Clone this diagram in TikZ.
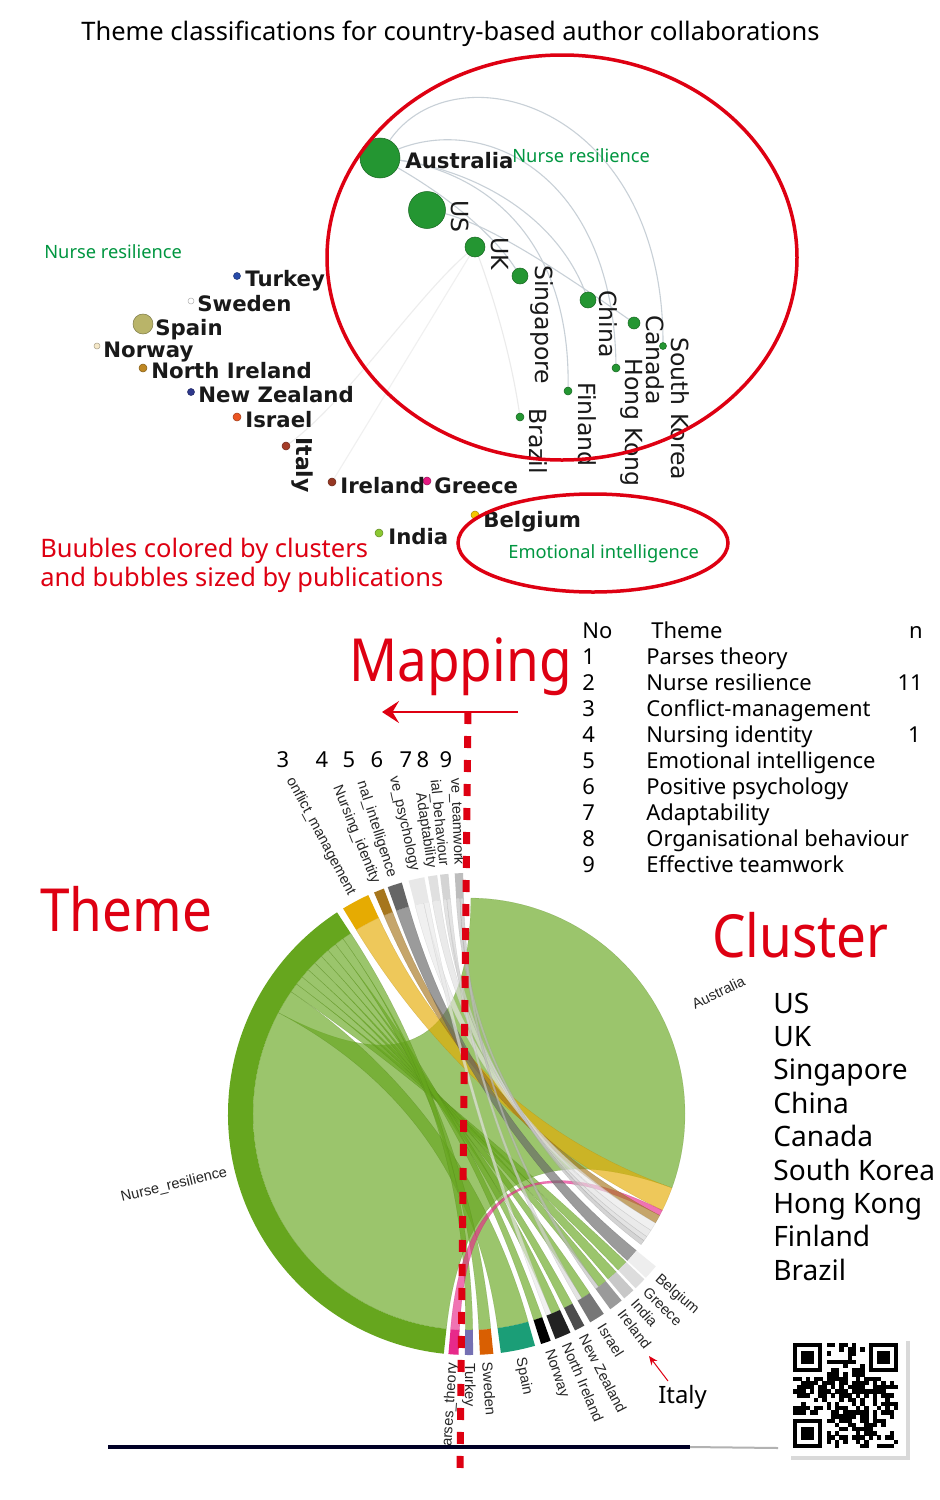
\documentclass[tikz,border=0pt]{standalone}
\usepackage{fontspec}
\setmainfont{Noto Sans}
\newfontfamily\vosfont{DejaVu Sans}
\newfontfamily\chordfont{Liberation Sans}
\usetikzlibrary{arrows.meta}

\definecolor{mapred}{RGB}{222,0,18}
\definecolor{labgreen}{RGB}{0,150,64}
\definecolor{bubgreen}{RGB}{36,150,50}
\definecolor{vosgray}{RGB}{200,208,215}
%left bubbles
\definecolor{dturk}{RGB}{40,75,170}
\definecolor{dspa}{RGB}{185,180,105}
\definecolor{dnor}{RGB}{245,232,200}
\definecolor{dnir}{RGB}{190,135,35}
\definecolor{dnzl}{RGB}{45,55,140}
\definecolor{disr}{RGB}{235,85,35}
\definecolor{dita}{RGB}{165,60,40}
\definecolor{dirl}{RGB}{150,55,35}
\definecolor{dgre}{RGB}{230,25,130}
\definecolor{dbel}{RGB}{245,200,0}
\definecolor{dind}{RGB}{140,200,50}
%chord groups
\definecolor{cnurse}{HTML}{66A61E}
\definecolor{cconf}{HTML}{E6AB02}
\definecolor{cident}{HTML}{A6761D}
\definecolor{cemot}{HTML}{666666}
\definecolor{cpos}{HTML}{E8E8E8}
\definecolor{cadapt}{HTML}{E0E0E0}
\definecolor{corg}{HTML}{D4D4D4}
\definecolor{cteam}{HTML}{BDBDBD}
\definecolor{cbel}{HTML}{EEEEEE}
\definecolor{cgre}{HTML}{DDDDDD}
\definecolor{cind}{HTML}{C8C8C8}
\definecolor{cirl}{HTML}{9A9A9A}
\definecolor{cisr}{HTML}{777777}
\definecolor{cnzl}{HTML}{4D4D4D}
\definecolor{cnir}{HTML}{222222}
\definecolor{cnor}{HTML}{000000}
\definecolor{cspa}{HTML}{1B9E77}
\definecolor{cswe}{HTML}{D95F02}
\definecolor{ctur}{HTML}{7570B3}
\definecolor{cpar}{HTML}{E7298A}

\newcommand\fs[1]{\fontsize{#1}{#1}\selectfont}

% ribbon between arc #1-#2 and arc #3-#4 (degrees, clockwise from top)
\newcommand\ribbon[5]{%
  \path[ribbon=#5] (#1-90:216) arc[start angle=#1-90, end angle=#2-90, radius=216]
    .. controls (#2-90:72) and (#3-90:72) .. (#3-90:216)
    arc[start angle=#3-90, end angle=#4-90, radius=216]
    .. controls (#4-90:72) and (#1-90:72) .. (#1-90:216) -- cycle;}
\newcommand\grouparc[3]{%
  \fill[#3] (#1-90:216) arc[start angle=#1-90, end angle=#2-90, radius=216]
    -- (#2-90:241) arc[start angle=#2-90, end angle=#1-90, radius=241] -- cycle;}
\newcommand\rightlab[2]{\node[chordlab, anchor=west, rotate=90-#1] at (#1-90:247) {#2};}
\newcommand\leftlab[2]{\node[chordlab, anchor=east, rotate=270-#1] at (#1-90:247) {#2};}

\begin{document}
\begin{tikzpicture}[x=0.2mm, y=-0.2mm,
  ribbon/.style={fill=#1, fill opacity=.65, draw=#1!75!black, draw opacity=.4, line width=.15pt},
  chordlab/.style={font=\chordfont\fs{8.3}, text=black!85, inner sep=1pt},
  bubble/.style={circle, draw=#1!70!black, fill=#1, inner sep=0pt, line width=.3pt},
  vlab/.style={font=\vosfont\bfseries\fs{12.1}, text=black!90, anchor=base west, inner sep=0pt},
  rlab/.style={font=\vosfont\fs{13.4}, text=black!90, rotate=-90, anchor=west, inner sep=0pt},
  vosline/.style={vosgray, line width=.22mm},
  bigred/.style={mapred, line width=.7mm},
  greenlab/.style={font=\fs{10.4}, text=labgreen, anchor=base west, inner sep=0pt},
  tabtext/.style={font=\fs{12.5}, anchor=base west, inner sep=0pt},
  bigword/.style={font=\fs{30.2}, text=mapred, anchor=base west, inner sep=0pt, yscale=1.12}]

\fill[white] (0,0) rectangle (939,1500);
\useasboundingbox (0,0) rectangle (939,1500);

\node[font=\fs{14.5}, anchor=base west, inner sep=0pt] (title) at (81,40)
  {Theme classifications for country-based author collaborations};

%% bubble map
\coordinate (aus) at (380,158);
\coordinate (usa) at (427,210);
\coordinate (ukd) at (475,247);
\coordinate (sgp) at (520,276);
\coordinate (chn) at (588,300);
\coordinate (can) at (634,323);
\coordinate (skr) at (663,346);
\coordinate (hkg) at (616,368);
\coordinate (fin) at (568,391);
\coordinate (bra) at (520,417);
\coordinate (ita) at (286,446);
\coordinate (irl) at (332,482);

\draw[vosline] (aus) .. controls (430,40) and (665,90) .. (skr);
\draw[vosline] (aus) .. controls (470,105) and (615,165) .. (hkg);
\draw[vosline] (aus) .. controls (480,165) and (572,235) .. (fin);
\draw[vosline] (aus) .. controls (470,165) and (560,215) .. (chn);
\draw[vosline] (aus) .. controls (450,195) and (500,240) .. (sgp);
\draw[vosline] (usa) .. controls (470,215) and (530,250) .. (can);
\draw[vosline, black!8] (ukd) .. controls (495,300) and (512,360) .. (bra);
\draw[vosline, black!7] (ukd) .. controls (420,290) and (350,400) .. (ita);
\draw[vosline, black!6] (ukd) -- (irl);

\node[bubble=bubgreen, minimum size=8mm] (ausb) at (aus) {};
\node[bubble=bubgreen, minimum size=7.4mm] (usab) at (usa) {};
\node[bubble=bubgreen, minimum size=4mm] (ukdb) at (ukd) {};
\node[bubble=bubgreen, minimum size=3.2mm] (sgpb) at (sgp) {};
\node[bubble=bubgreen, minimum size=3.2mm] (chnb) at (chn) {};
\node[bubble=bubgreen, minimum size=2.4mm] (canb) at (can) {};
\node[bubble=bubgreen, minimum size=1.4mm] (skrb) at (skr) {};
\node[bubble=bubgreen, minimum size=1.6mm] (hkgb) at (hkg) {};
\node[bubble=bubgreen, minimum size=1.6mm] (finb) at (fin) {};
\node[bubble=bubgreen, minimum size=1.6mm] (brab) at (bra) {};

\node[vlab] (auslab) at (405,168) {Australia};
\node[rlab] (usalab) at (460,200) {US};
\node[rlab] (ukdlab) at (500,237) {UK};
\node[rlab] (sgplab) at (542,265) {Singapore};
\node[rlab] (chnlab) at (608,290) {China};
\node[rlab] (canlab) at (655,315) {Canada};
\node[rlab] (skrlab) at (680,337) {South Korea};
\node[rlab] (hkglab) at (632,358) {Hong Kong};
\node[rlab] (finlab) at (587,382) {Finland};
\node[rlab] (bralab) at (538,408) {Brazil};

%left group
\node[bubble=dturk, minimum size=1.4mm] (turb) at (237,276) {};
\node[bubble=white, minimum size=1.2mm] (sweb) at (191,301) {};
\node[bubble=dspa, minimum size=4mm] (spab) at (143,324) {};
\node[bubble=dnor, minimum size=1.2mm] (norb) at (97,346) {};
\node[bubble=dnir, minimum size=1.6mm] (nirb) at (143,368) {};
\node[bubble=dnzl, minimum size=1.4mm] (nzlb) at (191,392) {};
\node[bubble=disr, minimum size=1.6mm] (isrb) at (237,417) {};
\node[bubble=dita, minimum size=1.6mm] (itab) at (ita) {};
\node[bubble=dirl, minimum size=1.6mm] (irlb) at (irl) {};
\node[bubble=dgre, minimum size=1.6mm] (greb) at (427,481) {};
\node[bubble=dbel, minimum size=1.6mm] (belb) at (475,515) {};
\node[bubble=dind, minimum size=1.6mm] (indb) at (379,533) {};

\node[vlab] (turlab) at (245,286) {Turkey};
\node[vlab] (swelab) at (197,311) {Sweden};
\node[vlab] (spalab) at (155,335) {Spain};
\node[vlab] (norlab) at (103,357) {Norway};
\node[vlab] (nirlab) at (151,378) {North Ireland};
\node[vlab] (nzllab) at (198,402) {New Zealand};
\node[vlab] (isrlab) at (245,427) {Israel};
\node[rlab, font=\vosfont\bfseries\fs{12.5}] (italab) at (302,437) {Italy};
\node[vlab] (irllab) at (340,493) {Ireland};
\node[vlab] (grelab) at (434,493) {Greece};
\node[vlab] (bellab) at (483,527) {Belgium};
\node[vlab] (indlab) at (388,544) {India};

\node[greenlab] (nrleft) at (44,258) {Nurse resilience};
\node[greenlab] (nrtop) at (512,162) {Nurse resilience};
\node[greenlab] (eitop) at (508,558) {Emotional intelligence};

\draw[bigred] (562,257.5) ellipse [x radius=235, y radius=202.5];
\draw[bigred] (593,543) ellipse [x radius=135, y radius=49];

\node[font=\fs{14.5}, text=mapred, anchor=base west, inner sep=0pt] (note1) at (40,557) {Buubles colored by clusters};
\node[font=\fs{14.5}, text=mapred, anchor=base west, inner sep=0pt] (note2) at (40,586) {and bubbles sized by publications};

%% mapping, table, headings
\node[bigword] (mapping) at (349,681) {Mapping};
\node[bigword] (themeword) at (40,931) {Theme};
\node[bigword] (clusterword) at (712,957) {Cluster};

\node[tabtext] (tabno) at (582,638) {No};
\node[tabtext] (tabtheme) at (651,638) {Theme};
\node[tabtext, anchor=base east] (tabn) at (923,638) {n};
\foreach \tn [count=\k] in {Parses theory, Nurse resilience, Conflict-management,
    Nursing identity, Emotional intelligence, Positive psychology, Adaptability,
    Organisational behaviour, Effective teamwork}{
  \node[tabtext] at (582,638+\k*26) {\k};
  \node[tabtext] at (646,638+\k*26) {\tn};
}
\node[tabtext, anchor=base east] (nnurse) at (923,690) {11};
\node[tabtext, anchor=base east] (nemot) at (921,742) {1};

\foreach \nx/\nn in {283/3, 322/4, 349/5, 377/6, 406/7, 423/8, 446/9}
  \node[tabtext, anchor=base] at (\nx,767) {\nn};

\foreach \cn [count=\k from 0] in {US, UK, Singapore, China, Canada, South Korea,
    Hong Kong, Finland, Brazil}
  \node[font=\fs{16}, anchor=base west, inner sep=0pt] at (773,1013+\k*33.4) {\cn};

%% chord diagram
\begin{scope}[shift={(469,1114)}]
  %Nurse_resilience chords
  \ribbon{0.5}{110}{186}{298}{cnurse}
  \ribbon{164.1}{172.4}{298}{304.5}{cnurse}
  \ribbon{133.3}{136.3}{304.5}{307}{cnurse}
  \ribbon{137}{139.9}{307}{309.4}{cnurse}
  \ribbon{140.7}{143.1}{309.4}{311.9}{cnurse}
  \ribbon{146}{148.5}{311.9}{314.4}{cnurse}
  \ribbon{151.4}{153.9}{314.4}{316.9}{cnurse}
  \ribbon{155.1}{157.6}{316.9}{319.3}{cnurse}
  \ribbon{160.2}{162.6}{319.3}{321.8}{cnurse}
  \ribbon{174.2}{177.4}{321.8}{324.3}{cnurse}
  \ribbon{179}{181}{324.3}{326.8}{cnurse}
  %other themes
  \ribbon{110}{116.5}{328.5}{335.3}{cconf}
  \ribbon{116.5}{118}{182.5}{184.9}{cpar}
  \ribbon{118}{120.3}{336.8}{339.3}{cident}
  \ribbon{129.2}{132.8}{340.3}{343.8}{cemot}
  \ribbon{120.3}{122.6}{345.5}{347.9}{cpos}
  \ribbon{157.6}{159}{347.9}{349.3}{cpos}
  \ribbon{122.6}{124.6}{350.2}{352.4}{cadapt}
  \ribbon{124.6}{125.9}{353.1}{354.1}{corg}
  \ribbon{148.5}{149.8}{354.1}{355.1}{corg}
  \ribbon{125.9}{127.2}{356.6}{357.6}{cteam}
  \ribbon{143.1}{144.1}{357.6}{358.6}{cteam}
  %ring
  \grouparc{129.2}{132.8}{cbel}
  \grouparc{133.3}{136.3}{cgre}
  \grouparc{137}{139.9}{cind}
  \grouparc{140.7}{144.1}{cirl}
  \grouparc{146}{149.8}{cisr}
  \grouparc{151.4}{153.9}{cnzl}
  \grouparc{155.1}{159}{cnir}
  \grouparc{160.2}{162.6}{cnor}
  \grouparc{164.1}{172.4}{cspa}
  \grouparc{174.2}{177.4}{cswe}
  \grouparc{179}{181}{ctur}
  \grouparc{182.5}{184.9}{cpar}
  \grouparc{186}{326.8}{cnurse}
  \grouparc{328.5}{335.3}{cconf}
  \grouparc{336.8}{339.3}{cident}
  \grouparc{340.3}{343.8}{cemot}
  \grouparc{345.5}{349.3}{cpos}
  \grouparc{350.2}{352.4}{cadapt}
  \grouparc{353.1}{355.1}{corg}
  \grouparc{356.6}{358.6}{cteam}
  %labels (cut as printed)
  \rightlab{64}{Australia}
  \rightlab{131}{Belgium}
  \rightlab{134.8}{Greece}
  \rightlab{138.5}{India}
  \rightlab{142.4}{Ireland}
  \rightlab{147.9}{Israel}
  \rightlab{152.7}{New Zealand}
  \rightlab{157}{North Ireland}
  \rightlab{161.4}{Norway}
  \rightlab{168.2}{Spain}
  \rightlab{175.8}{Sweden}
  \rightlab{180}{Turkey}
  \leftlab{183.7}{arses\_theory}
  \leftlab{256.4}{Nurse\_resilience}
  \leftlab{331.9}{onflict\_management}
  \leftlab{338}{Nursing\_identity}
  \leftlab{342}{nal\_intelligence}
  \leftlab{347.4}{ve\_psychology}
  \leftlab{351.3}{Adaptability}
  \leftlab{354.1}{ial\_behaviour}
  \leftlab{357.6}{ve\_teamwork}
\end{scope}

%% bottom rule
\coordinate (ruleL) at (108,1447);
\coordinate (ruleM) at (690,1447);
\coordinate (ruleR) at (778,1448);
\draw[line width=.9mm, black!85!blue] (ruleL) -- (ruleM);
\draw[line width=.4mm, black!30] (ruleM) -- (ruleR);

%Italy note
\node[font=\fs{13.6}, anchor=base west, inner sep=0pt] (italybot) at (658,1403) {Italy};
\coordinate (itatail) at (668,1381);
\coordinate (itahead) at (649,1356);
\draw[mapred, line width=.2mm, -{Stealth[length=1.8mm, width=1.5mm]}] (itatail) -- (itahead);

%% QR code
\fill[black!15] (791,1341) rectangle (910,1460);
\fill[white] (786,1336) rectangle (906,1456);
\begin{scope}[shift={(793,1343)}]
  \pgfmathsetseed{2718}
  \foreach \i in {0,...,24}{
    \foreach \j in {0,...,24}{
      \pgfmathtruncatemacro\qon{((\i<8 && \j<8) || (\i>16 && \j<8) || (\i<8 && \j>16)) ? 0 : (rnd<0.5 ? 1 : 0)}
      \ifnum\qon=1 \fill (\i*4.2,\j*4.2) rectangle ++(4.3,4.3); \fi
    }}
  \foreach \fx/\fy in {0/0, 18/0, 0/18}{
    \fill (\fx*4.2,\fy*4.2) rectangle ++(29.4,29.4);
    \fill[white] (\fx*4.2+4.2,\fy*4.2+4.2) rectangle ++(21,21);
    \fill (\fx*4.2+8.4,\fy*4.2+8.4) rectangle ++(12.6,12.6);
  }
\end{scope}

%% mapping arrow and dashed split
\coordinate (arrR) at (518,712);
\coordinate (arrL) at (382,712);
\coordinate (dashtop) at (468,712);
\coordinate (dashbot) at (460,1475);
\draw[mapred, line width=.45mm, -{Stealth[length=3.4mm, width=4.4mm, inset=1.3mm]}] (arrR) -- (arrL);
\draw[mapred, line width=1.4mm, dash pattern=on 2.4mm off 2.4mm] (dashtop) -- (dashbot);

\end{tikzpicture}
\end{document}
